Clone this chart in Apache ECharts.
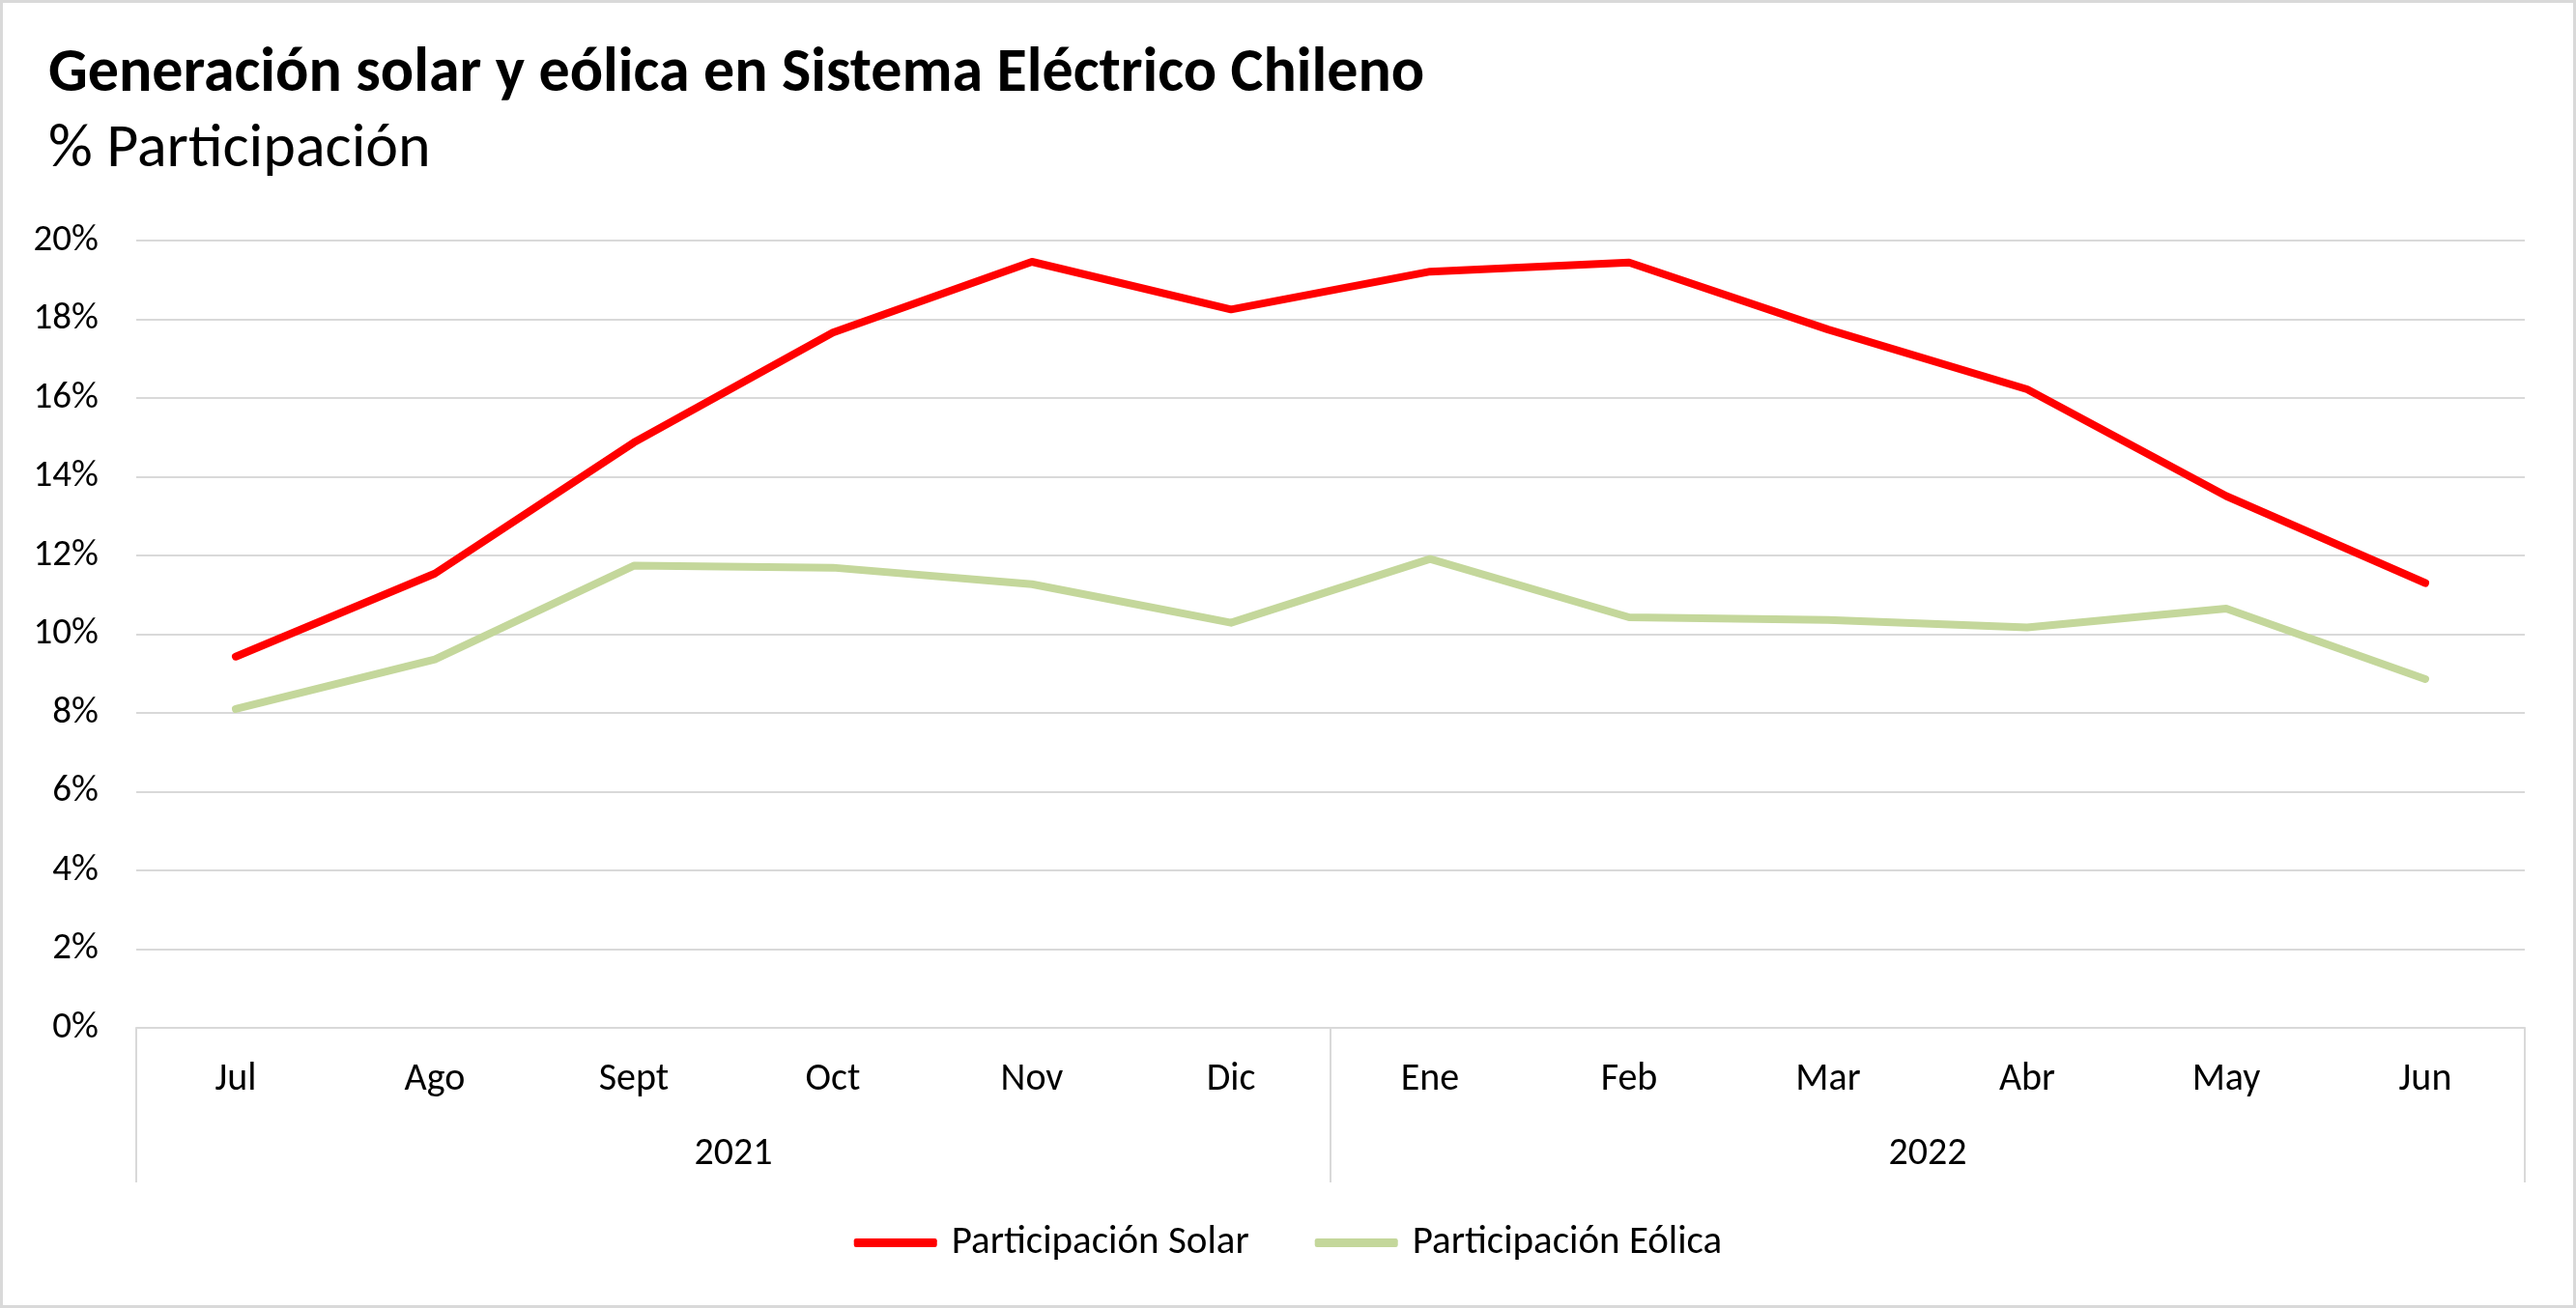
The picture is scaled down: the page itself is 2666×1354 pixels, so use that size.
<!DOCTYPE html>
<html>
<head>
<meta charset="utf-8">
<script src="https://cdn.jsdelivr.net/npm/echarts@6/dist/echarts.min.js"></script>
<style>
html,body{margin:0;padding:0;background:#fff;}
#chart{width:2666px;height:1354px;}
</style>
</head>
<body>
<div id="chart"></div>
<script>
const months = ['Jul','Ago','Sept','Oct','Nov','Dic','Ene','Feb','Mar','Abr','May','Jun'];
const years = ['2021','2022'];
const solar = [9.43, 11.54, 14.87, 17.66, 19.46, 18.25, 19.21, 19.44, 17.74, 16.22, 13.51, 11.30];
const eolica = [8.10, 9.36, 11.74, 11.69, 11.27, 10.29, 11.91, 10.43, 10.36, 10.17, 10.65, 8.86];
const yTicks = {min: 0, max: 20, interval: 2};

const FONT = 'Carlito, Calibri, Lato, sans-serif';
const chart = echarts.init(document.getElementById('chart'));
chart.setOption({
  backgroundColor: '#fff',
  animation: false,
  title: [
    {text: 'Generación solar y eólica en Sistema Eléctrico Chileno', left: 45, top: 41,
     textStyle: {fontFamily: FONT, fontWeight: 'bold', fontSize: 64, color: '#000'}},
    {text: '% Participación', left: 45, top: 119,
     textStyle: {fontFamily: FONT, fontWeight: 'normal', fontSize: 64, color: '#000'}}
  ],
  graphic: [{type: 'rect', shape: {x: 1.5, y: 1.5, width: 2663, height: 1351},
    style: {fill: 'none', stroke: '#D9D9D9', lineWidth: 3}, silent: true}],
  legend: {
    left: 'center', top: 1261, itemWidth: 86, itemHeight: 9, itemGap: 68,
    icon: 'roundRect',
    textStyle: {fontFamily: FONT, fontSize: 41, color: '#000', padding: [0, 0, 0, 10]},
    data: ['Participación Solar', 'Participación Eólica']
  },
  grid: {left: 141, right: 53, top: 249, bottom: 290, containLabel: false},
  xAxis: [
    {type: 'category', data: months, position: 'bottom',
     axisLine: {show: true, lineStyle: {color: '#D9D9D9', width: 2}},
     axisTick: {show: false},
     axisLabel: {margin: 34, fontFamily: FONT, fontSize: 40, color: '#000'}},
    {type: 'category', data: years, position: 'bottom',
     axisLine: {show: false},
     axisTick: {show: true, length: 160, lineStyle: {color: '#D9D9D9', width: 2}},
     axisLabel: {margin: 111, fontFamily: FONT, fontSize: 40, color: '#000'}}
  ],
  yAxis: {
    type: 'value', min: yTicks.min, max: yTicks.max, interval: yTicks.interval,
    axisLine: {show: false}, axisTick: {show: false},
    axisLabel: {formatter: '{value}%', margin: 39, fontFamily: FONT, fontSize: 39, color: '#000'},
    splitLine: {lineStyle: {color: '#D9D9D9', width: 2}}
  },
  series: [
    {name: 'Participación Solar', type: 'line', data: solar, symbol: 'none',
     color: '#FF0000', lineStyle: {width: 8, color: '#FF0000', cap: 'round', join: 'round'}},
    {name: 'Participación Eólica', type: 'line', data: eolica, symbol: 'none',
     color: '#C4D79B', lineStyle: {width: 8, color: '#C4D79B', cap: 'round', join: 'round'}}
  ]
});
</script>
</body>
</html>
